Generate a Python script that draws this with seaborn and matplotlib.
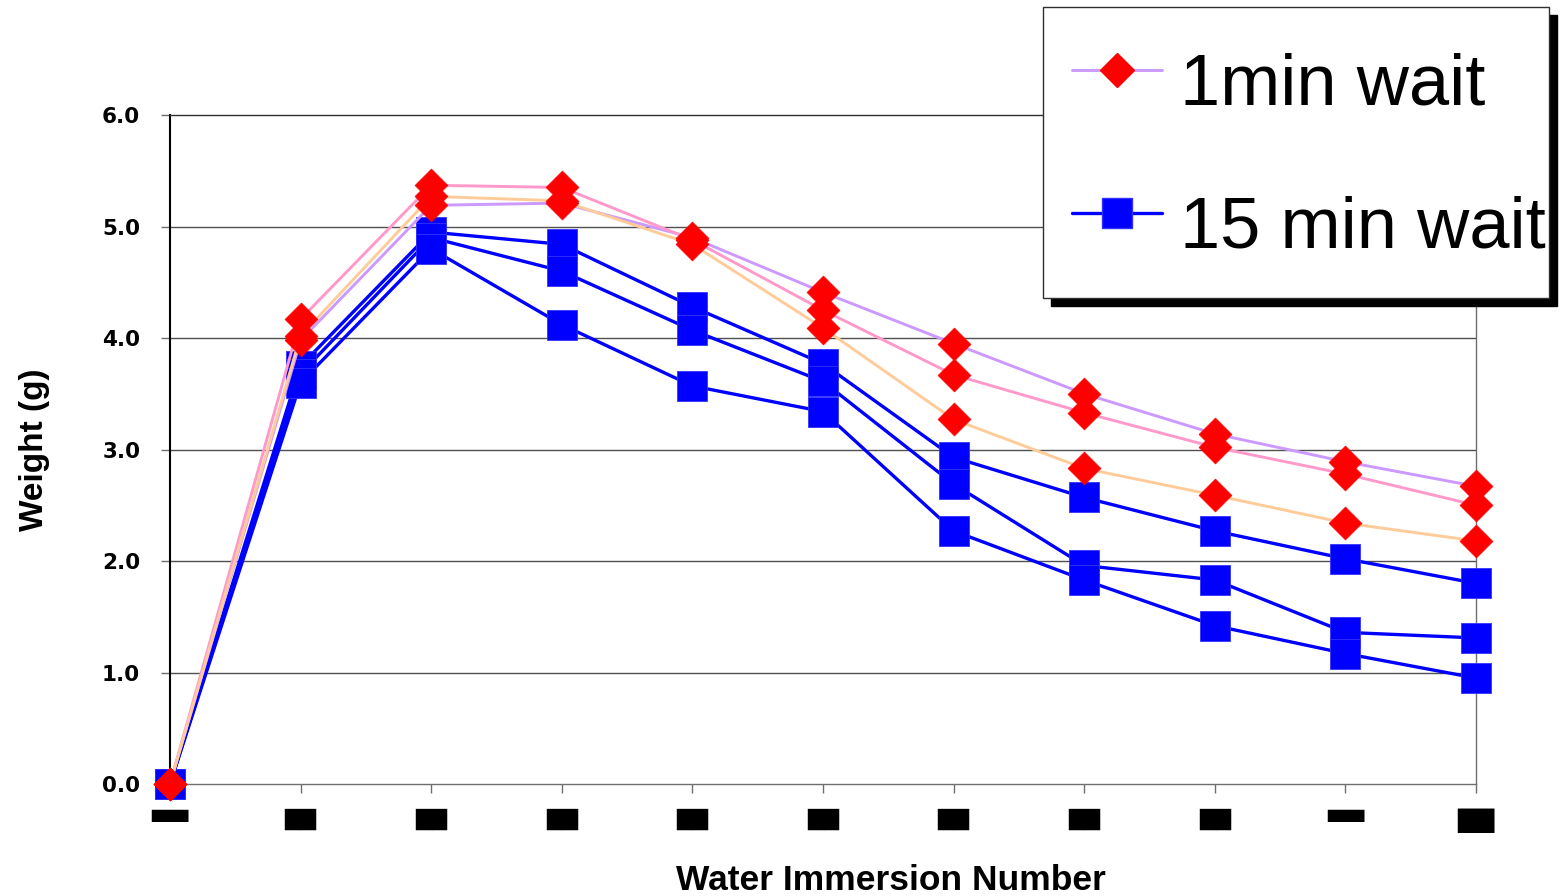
import pandas as pd
import seaborn as sns
import matplotlib.pyplot as plt
from matplotlib.lines import Line2D

# Weight readings (g) after each water immersion, three trials per wait time
immersion = list(range(11))
wait_1min_a = [0, 3.98, 5.19, 5.21, 4.90, 4.41, 3.95, 3.50, 3.14, 2.89, 2.67]
wait_1min_b = [0, 4.17, 5.37, 5.35, 4.88, 4.25, 3.67, 3.33, 3.02, 2.78, 2.50]
wait_1min_c = [0, 4.02, 5.27, 5.23, 4.84, 4.09, 3.27, 2.83, 2.59, 2.34, 2.18]
wait_15min_a = [0, 3.75, 4.95, 4.84, 4.28, 3.77, 2.93, 2.57, 2.27, 2.02, 1.80]
wait_15min_b = [0, 3.68, 4.90, 4.60, 4.07, 3.61, 2.69, 1.96, 1.83, 1.36, 1.31]
wait_15min_c = [0, 3.60, 4.80, 4.12, 3.57, 3.34, 2.27, 1.83, 1.42, 1.17, 0.95]

group_labels = ["1min wait", "15 min wait"]
y_ticks = [0, 1, 2, 3, 4, 5, 6]
# category labels along the x axis (rendered as solid blocks)
x_tick_labels = ["▀▀", "██", "██", "██", "██", "██",
                 "██", "██", "██", "▀▀", "██"]
x_tick_sizes = [17.5, 15.0, 15.0, 15.0, 15.0, 15.0,
                15.0, 15.0, 15.0, 17.5, 17.5]

trials_1min = {"1a": wait_1min_a, "1b": wait_1min_b, "1c": wait_1min_c}
trials_15min = {"15a": wait_15min_a, "15b": wait_15min_b, "15c": wait_15min_c}


def long_frame(trials):
    rows = []
    for name, vals in trials.items():
        for x, y in zip(immersion, vals):
            rows.append({"immersion": x, "weight": y, "trial": name})
    return pd.DataFrame(rows)


df_1 = long_frame(trials_1min)
df_15 = long_frame(trials_15min)

sns.set_style("white")
plt.rcParams["font.family"] = ["Liberation Sans", "DejaVu Sans"]
plt.rcParams["text.color"] = "black"
plt.rcParams["axes.labelcolor"] = "black"
plt.rcParams["xtick.color"] = "black"
plt.rcParams["ytick.color"] = "black"

fig = plt.figure(figsize=(15.6, 8.96), dpi=100)
ax = fig.add_axes([0.10897, 0.125, 0.83718, 0.74665])

BLUE = "#0000FF"
RED = "#FF0000"
pastel = {"1a": "#CC99FF", "1b": "#FF99CC", "1c": "#FFCC99"}
blues = {"15a": BLUE, "15b": BLUE, "15c": BLUE}

# 15 minute wait trials
sns.lineplot(data=df_15, x="immersion", y="weight", hue="trial", palette=blues,
             linewidth=2.4, legend=False, errorbar=None, sort=False, ax=ax,
             zorder=3, clip_on=False)
sns.scatterplot(data=df_15, x="immersion", y="weight", marker="s", color=BLUE,
                s=450, edgecolor="#3333FF", linewidth=0.6, legend=False, ax=ax,
                zorder=4, clip_on=False)

# 1 minute wait trials
sns.lineplot(data=df_1, x="immersion", y="weight", hue="trial", palette=pastel,
             linewidth=2.1, legend=False, errorbar=None, sort=False, ax=ax,
             zorder=5, clip_on=False)
sns.scatterplot(data=df_1, x="immersion", y="weight", marker="D", color=RED,
                s=280, edgecolor=RED, linewidth=0.5, legend=False, ax=ax,
                zorder=6, clip_on=False)

ax.set_xlim(0, 10)
ax.set_ylim(0, 6)

# horizontal gridlines
ax.set_yticks(y_ticks)
ax.set_yticklabels([f"{v:.1f}" for v in y_ticks])
for v in y_ticks[1:-1]:
    ax.axhline(v, color="#505050", linewidth=1.0, zorder=1)

ax.set_xticks(immersion)
ax.set_xticklabels(x_tick_labels)
for lab, fs in zip(ax.get_xticklabels(), x_tick_sizes):
    lab.set_fontfamily("DejaVu Sans")
    lab.set_fontsize(fs)
    lab.set_color("black")

ax.tick_params(axis="x", direction="out", length=6.5, width=1.0,
               color="#707070", labelcolor="black", pad=11.5, bottom=True)
ax.tick_params(axis="y", direction="out", length=6.5, width=1.0,
               color="#707070", labelcolor="black", pad=15, left=True)
for lab in ax.get_yticklabels():
    lab.set_fontfamily("DejaVu Sans")
    lab.set_fontweight("bold")
    lab.set_fontsize(15.5)

ax.spines["left"].set_color("black")
ax.spines["left"].set_linewidth(1.5)
ax.spines["top"].set_color("#303030")
ax.spines["top"].set_linewidth(1.0)
ax.spines["right"].set_color("#707070")
ax.spines["right"].set_linewidth(1.0)
ax.spines["bottom"].set_color("#707070")
ax.spines["bottom"].set_linewidth(1.0)

ax.set_ylabel("Weight (g)", fontsize=24, fontweight="bold", color="black")
ax.yaxis.set_label_coords(-0.092, 0.5)
ax.set_xlabel("Water Immersion Number", fontsize=25.5, fontweight="bold",
              color="black")
ax.xaxis.set_label_coords(0.552, -0.120)

handles = [
    Line2D([], [], color=pastel["1a"], linewidth=2.1, marker="D", markersize=17,
           markerfacecolor=RED, markeredgecolor=RED),
    Line2D([], [], color=BLUE, linewidth=2.4, marker="s", markersize=21,
           markerfacecolor=BLUE, markeredgecolor="#3333FF"),
]
leg = fig.legend(handles, group_labels, loc="upper left",
                 bbox_to_anchor=(1043 / 1560, 0.0, 506 / 1560, 1 - 7 / 896),
                 mode="expand", borderaxespad=0, fancybox=False,
                 prop={"family": "Liberation Sans", "size": 52},
                 borderpad=0.4, labelspacing=0.72, handlelength=1.25,
                 handleheight=1.55, handletextpad=0.25,
                 shadow={"ox": 6, "oy": -6, "shade": 1.0, "alpha": 1.0})
leg.get_frame().set_edgecolor("#303030")
leg.get_frame().set_linewidth(1.0)
leg.get_frame().set_alpha(1.0)
for t in leg.get_texts():
    t.set_color("black")

fig.savefig("out.png", dpi=100)
